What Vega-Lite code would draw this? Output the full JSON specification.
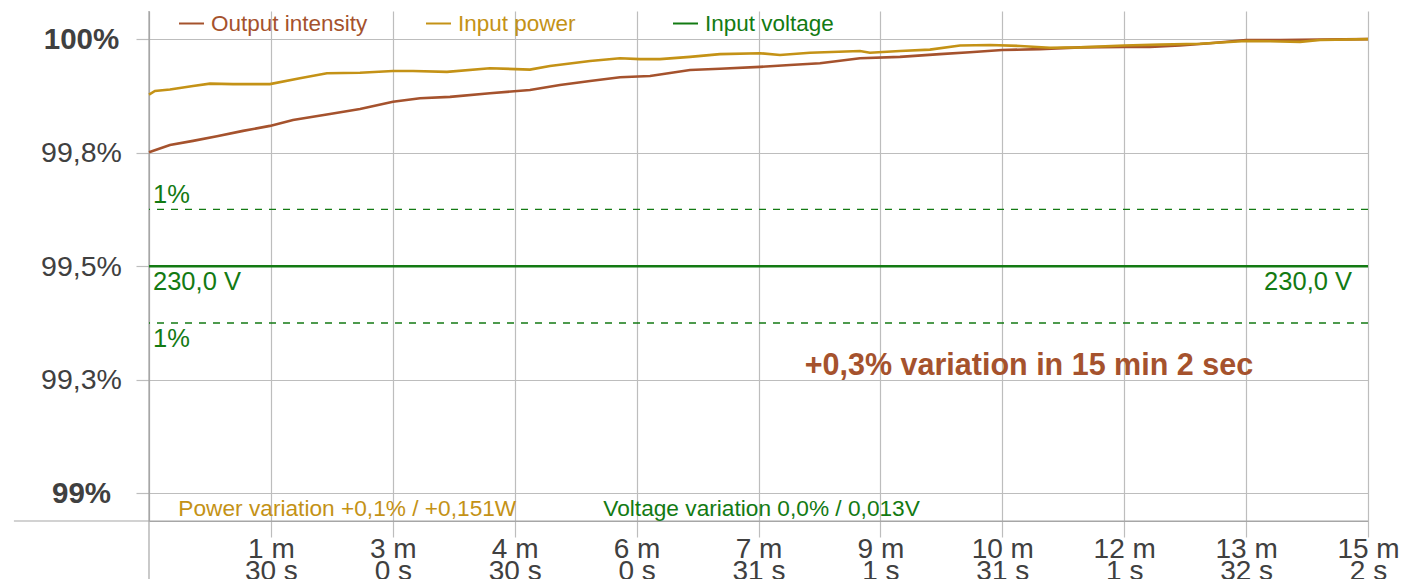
{
  "$schema": "https://vega.github.io/schema/vega-lite/v6.json",
  "width": 1219,
  "height": 510,
  "autosize": "none",
  "padding": {"left": 149, "top": 11, "right": 51, "bottom": 58},
  "background": "white",
  "config": {"view": {"stroke": null}, "font": "Liberation Sans"},
  "datasets": {
    "series": [
      {"t": 0, "v": 99.751, "series": "Output intensity"},
      {"t": 15.5, "v": 99.767, "series": "Output intensity"},
      {"t": 32.6, "v": 99.776, "series": "Output intensity"},
      {"t": 50.3, "v": 99.786, "series": "Output intensity"},
      {"t": 69.6, "v": 99.798, "series": "Output intensity"},
      {"t": 89.5, "v": 99.809, "series": "Output intensity"},
      {"t": 106.6, "v": 99.822, "series": "Output intensity"},
      {"t": 133.9, "v": 99.835, "series": "Output intensity"},
      {"t": 156.2, "v": 99.846, "series": "Output intensity"},
      {"t": 180.6, "v": 99.862, "series": "Output intensity"},
      {"t": 200.6, "v": 99.87, "series": "Output intensity"},
      {"t": 222.8, "v": 99.873, "series": "Output intensity"},
      {"t": 252.4, "v": 99.881, "series": "Output intensity"},
      {"t": 282.0, "v": 99.888, "series": "Output intensity"},
      {"t": 304.2, "v": 99.899, "series": "Output intensity"},
      {"t": 326.5, "v": 99.908, "series": "Output intensity"},
      {"t": 348.7, "v": 99.916, "series": "Output intensity"},
      {"t": 370.9, "v": 99.919, "series": "Output intensity"},
      {"t": 400.5, "v": 99.932, "series": "Output intensity"},
      {"t": 422.7, "v": 99.935, "series": "Output intensity"},
      {"t": 452.3, "v": 99.939, "series": "Output intensity"},
      {"t": 474.5, "v": 99.943, "series": "Output intensity"},
      {"t": 496.7, "v": 99.947, "series": "Output intensity"},
      {"t": 526.3, "v": 99.958, "series": "Output intensity"},
      {"t": 555.9, "v": 99.961, "series": "Output intensity"},
      {"t": 585.5, "v": 99.967, "series": "Output intensity"},
      {"t": 607.7, "v": 99.971, "series": "Output intensity"},
      {"t": 631.5, "v": 99.976, "series": "Output intensity"},
      {"t": 659.6, "v": 99.978, "series": "Output intensity"},
      {"t": 689.2, "v": 99.982, "series": "Output intensity"},
      {"t": 721.7, "v": 99.983, "series": "Output intensity"},
      {"t": 741.0, "v": 99.983, "series": "Output intensity"},
      {"t": 763.2, "v": 99.986, "series": "Output intensity"},
      {"t": 785.4, "v": 99.991, "series": "Output intensity"},
      {"t": 812.1, "v": 99.998, "series": "Output intensity"},
      {"t": 837.3, "v": 99.998, "series": "Output intensity"},
      {"t": 866.9, "v": 99.999, "series": "Output intensity"},
      {"t": 902.4, "v": 100.0, "series": "Output intensity"},
      {"t": 0, "v": 99.878, "series": "Input power"},
      {"t": 4.4, "v": 99.886, "series": "Input power"},
      {"t": 15.5, "v": 99.889, "series": "Input power"},
      {"t": 32.6, "v": 99.897, "series": "Input power"},
      {"t": 45.1, "v": 99.902, "series": "Input power"},
      {"t": 62.2, "v": 99.901, "series": "Input power"},
      {"t": 89.5, "v": 99.901, "series": "Input power"},
      {"t": 111.7, "v": 99.914, "series": "Input power"},
      {"t": 131.7, "v": 99.925, "series": "Input power"},
      {"t": 156.2, "v": 99.926, "series": "Input power"},
      {"t": 180.6, "v": 99.93, "series": "Input power"},
      {"t": 195.4, "v": 99.93, "series": "Input power"},
      {"t": 220.6, "v": 99.928, "series": "Input power"},
      {"t": 252.4, "v": 99.936, "series": "Input power"},
      {"t": 282.0, "v": 99.933, "series": "Input power"},
      {"t": 296.8, "v": 99.941, "series": "Input power"},
      {"t": 326.5, "v": 99.952, "series": "Input power"},
      {"t": 348.7, "v": 99.958, "series": "Input power"},
      {"t": 363.5, "v": 99.956, "series": "Input power"},
      {"t": 378.3, "v": 99.956, "series": "Input power"},
      {"t": 400.5, "v": 99.961, "series": "Input power"},
      {"t": 422.7, "v": 99.967, "series": "Input power"},
      {"t": 452.3, "v": 99.969, "series": "Input power"},
      {"t": 467.1, "v": 99.965, "series": "Input power"},
      {"t": 489.3, "v": 99.97, "series": "Input power"},
      {"t": 526.3, "v": 99.974, "series": "Input power"},
      {"t": 533.7, "v": 99.97, "series": "Input power"},
      {"t": 555.9, "v": 99.974, "series": "Input power"},
      {"t": 578.1, "v": 99.977, "series": "Input power"},
      {"t": 600.4, "v": 99.986, "series": "Input power"},
      {"t": 622.6, "v": 99.987, "series": "Input power"},
      {"t": 644.8, "v": 99.985, "series": "Input power"},
      {"t": 667.0, "v": 99.981, "series": "Input power"},
      {"t": 689.2, "v": 99.982, "series": "Input power"},
      {"t": 721.7, "v": 99.986, "series": "Input power"},
      {"t": 748.4, "v": 99.988, "series": "Input power"},
      {"t": 778.0, "v": 99.99, "series": "Input power"},
      {"t": 812.1, "v": 99.996, "series": "Input power"},
      {"t": 837.3, "v": 99.995, "series": "Input power"},
      {"t": 852.1, "v": 99.994, "series": "Input power"},
      {"t": 866.9, "v": 99.998, "series": "Input power"},
      {"t": 902.4, "v": 100.0, "series": "Input power"},
      {"t": 0, "v": 99.5, "series": "Input voltage"},
      {"t": 90.24, "v": 99.5, "series": "Input voltage"},
      {"t": 180.48, "v": 99.5, "series": "Input voltage"},
      {"t": 270.72, "v": 99.5, "series": "Input voltage"},
      {"t": 360.96, "v": 99.5, "series": "Input voltage"},
      {"t": 451.2, "v": 99.5, "series": "Input voltage"},
      {"t": 541.44, "v": 99.5, "series": "Input voltage"},
      {"t": 631.68, "v": 99.5, "series": "Input voltage"},
      {"t": 721.92, "v": 99.5, "series": "Input voltage"},
      {"t": 812.16, "v": 99.5, "series": "Input voltage"},
      {"t": 902.4, "v": 99.5, "series": "Input voltage"}
    ]
  },
  "layer": [
    {
      "data": {"values": [{"t": 0, "v": 98.8, "v2": 100.062}]},
      "mark": {"type": "rule", "color": "#a6a6a6", "strokeWidth": 1.2},
      "encoding": {
        "x": {"field": "t", "type": "quantitative"},
        "y": {"field": "v", "type": "quantitative"},
        "y2": {"field": "v2"}
      }
    },
    {
      "data": {"values": [{"t": -100, "t2": 902.4, "v": 98.939}]},
      "mark": {"type": "rule", "color": "#a6a6a6", "strokeWidth": 1.2},
      "encoding": {
        "x": {"field": "t", "type": "quantitative"},
        "x2": {"field": "t2"},
        "y": {"field": "v", "type": "quantitative"}
      }
    },
    {
      "data": {"values": [{"v": 99.625}, {"v": 99.375}]},
      "mark": {"type": "rule", "color": "#137a13", "strokeWidth": 1.3, "strokeDash": [7, 7]},
      "encoding": {"y": {"field": "v", "type": "quantitative"}}
    },
    {
      "data": {"name": "series"},
      "mark": {"type": "line", "strokeWidth": 2.6},
      "encoding": {
        "x": {
          "field": "t",
          "type": "quantitative",
          "scale": {"domain": [0, 902.4], "nice": false, "zero": false},
          "axis": {
            "title": null,
            "values": [90.24, 180.48, 270.72, 360.96, 451.2, 541.44, 631.68, 721.92, 812.16, 902.4],
            "labelExpr": "[floor(datum.value / 60) + ' m', floor(datum.value % 60) + ' s']",
            "grid": true,
            "gridColor": "#bdbdbd",
            "gridWidth": 1.2,
            "tickColor": "#bdbdbd",
            "tickWidth": 1.2,
            "tickSize": 16,
            "domainColor": "#a6a6a6",
            "domainWidth": 1.2,
            "labelFont": "Liberation Sans",
            "labelFontSize": 28,
            "labelLineHeight": 22,
            "labelColor": "#404040",
            "labelPadding": -2,
            "labelAlign": "center",
            "labelBaseline": "top",
            "labelFlush": false,
            "labelOverlap": false
          }
        },
        "y": {
          "field": "v",
          "type": "quantitative",
          "scale": {"domain": [98.939, 100.062], "nice": false, "zero": false},
          "axis": {
            "title": null,
            "values": [99, 99.25, 99.5, 99.75, 100],
            "labelExpr": "datum.value == 100 ? '100%' : datum.value == 99 ? '99%' : datum.value == 99.75 ? '99,8%' : datum.value == 99.5 ? '99,5%' : '99,3%'",
            "grid": true,
            "gridColor": "#bdbdbd",
            "gridWidth": 1.2,
            "tickColor": "#bdbdbd",
            "tickWidth": 1.2,
            "tickSize": 13,
            "domainColor": "#a6a6a6",
            "domainWidth": 1.2,
            "labelFont": "Liberation Sans",
            "labelFontSize": {"condition": {"test": "datum.value == 100 || datum.value == 99", "value": 29.5}, "value": 28.5},
            "labelFontWeight": {"condition": {"test": "datum.value == 100 || datum.value == 99", "value": "bold"}, "value": "normal"},
            "labelColor": "#404040",
            "labelAlign": "center",
            "labelPadding": 55
          }
        },
        "color": {
          "field": "series",
          "type": "nominal",
          "scale": {
            "domain": ["Output intensity", "Input power", "Input voltage"],
            "range": ["#a5522d", "#c49216", "#137a13"]
          },
          "legend": {
            "title": null,
            "orient": "none",
            "legendX": 29,
            "legendY": -1,
            "direction": "horizontal",
            "columns": 3,
            "gridAlign": "all",
            "columnPadding": 54,
            "symbolType": "stroke",
            "symbolSize": 625,
            "symbolStrokeWidth": 2,
            "labelFont": "Liberation Sans",
            "labelFontSize": 22.5,
            "labelOffset": 6,
            "labelLimit": 400,
            "encode": {
              "labels": {
                "update": {
                  "fill": {"signal": "datum.value === 'Output intensity' ? '#a5522d' : datum.value === 'Input power' ? '#c49216' : '#137a13'"}
                }
              }
            }
          }
        }
      }
    },
    {
      "data": {"values": [{"t": 0, "v": 99.625, "label": "1%"}]},
      "mark": {"type": "text", "align": "left", "baseline": "alphabetic", "dx": 4, "dy": -6, "fontSize": 25.5, "color": "#137a13", "font": "Liberation Sans"},
      "encoding": {
        "x": {"field": "t", "type": "quantitative"},
        "y": {"field": "v", "type": "quantitative"},
        "text": {"field": "label"}
      }
    },
    {
      "data": {"values": [{"t": 0, "v": 99.375, "label": "1%"}, {"t": 0, "v": 99.5, "label": "230,0 V"}]},
      "mark": {"type": "text", "align": "left", "baseline": "top", "dx": 4, "dy": 3.7, "fontSize": 25.5, "color": "#137a13", "font": "Liberation Sans"},
      "encoding": {
        "x": {"field": "t", "type": "quantitative"},
        "y": {"field": "v", "type": "quantitative"},
        "text": {"field": "label"}
      }
    },
    {
      "data": {"values": [{"t": 902.4, "v": 99.5, "label": "230,0 V"}]},
      "mark": {"type": "text", "align": "right", "baseline": "top", "dx": -16, "dy": 3.7, "fontSize": 25.5, "color": "#137a13", "font": "Liberation Sans"},
      "encoding": {
        "x": {"field": "t", "type": "quantitative"},
        "y": {"field": "v", "type": "quantitative"},
        "text": {"field": "label"}
      }
    },
    {
      "data": {"values": [{"t": 21.7, "v": 98.95, "label": "Power variation +0,1% / +0,151W"}]},
      "mark": {"type": "text", "align": "left", "baseline": "alphabetic", "fontSize": 22.7, "color": "#c49216", "font": "Liberation Sans"},
      "encoding": {
        "x": {"field": "t", "type": "quantitative"},
        "y": {"field": "v", "type": "quantitative"},
        "text": {"field": "label"}
      }
    },
    {
      "data": {"values": [{"t": 336.3, "v": 98.95, "label": "Voltage variation 0,0% / 0,013V"}]},
      "mark": {"type": "text", "align": "left", "baseline": "alphabetic", "fontSize": 22.7, "color": "#137a13", "font": "Liberation Sans"},
      "encoding": {
        "x": {"field": "t", "type": "quantitative"},
        "y": {"field": "v", "type": "quantitative"},
        "text": {"field": "label"}
      }
    },
    {
      "data": {"values": [{"t": 651.4, "v": 99.2604, "label": "+0,3% variation in 15 min 2 sec"}]},
      "mark": {"type": "text", "align": "center", "baseline": "alphabetic", "fontSize": 30.5, "fontWeight": "bold", "color": "#a5522d", "font": "Liberation Sans"},
      "encoding": {
        "x": {"field": "t", "type": "quantitative"},
        "y": {"field": "v", "type": "quantitative"},
        "text": {"field": "label"}
      }
    }
  ]
}
